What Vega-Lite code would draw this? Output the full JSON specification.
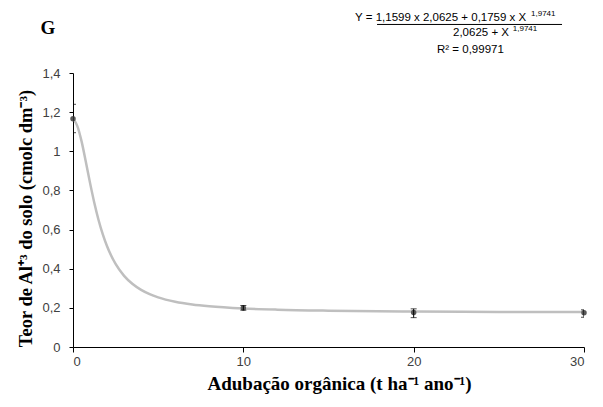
{
  "$schema": "https://vega.github.io/schema/vega-lite/v6.json",
  "width": 511,
  "height": 274,
  "autosize": "none",
  "padding": {"left": 73, "top": 73, "right": 19, "bottom": 60},
  "background": "white",
  "config": {
    "view": {"stroke": null},
    "locale": {"number": {"decimal": ",", "thousands": ".", "grouping": [3], "currency": ["", ""]}}
  },
  "datasets": {
    "curve": [
      {"x": 0, "y": 1.1599}, {"x": 0.1, "y": 1.1549}, {"x": 0.25, "y": 1.1299}, {"x": 0.5, "y": 1.0518},
      {"x": 0.75, "y": 0.9478}, {"x": 1, "y": 0.8386}, {"x": 1.25, "y": 0.7372}, {"x": 1.5, "y": 0.6491},
      {"x": 1.75, "y": 0.5753}, {"x": 2, "y": 0.5146}, {"x": 2.5, "y": 0.4244}, {"x": 3, "y": 0.3636},
      {"x": 3.5, "y": 0.3217}, {"x": 4, "y": 0.2919}, {"x": 4.5, "y": 0.2701}, {"x": 5, "y": 0.2538},
      {"x": 6, "y": 0.2316}, {"x": 7, "y": 0.2176}, {"x": 8, "y": 0.2083}, {"x": 10, "y": 0.1970},
      {"x": 12, "y": 0.1907}, {"x": 15, "y": 0.1855}, {"x": 20, "y": 0.1814}, {"x": 25, "y": 0.1794},
      {"x": 30, "y": 0.1784}
    ],
    "obs": [
      {"x": 0, "mean": 1.166, "lo": 1.095, "hi": 1.24},
      {"x": 10, "mean": 0.199, "lo": 0.188, "hi": 0.212},
      {"x": 20, "mean": 0.176, "lo": 0.15, "hi": 0.195},
      {"x": 30, "mean": 0.175, "lo": 0.152, "hi": 0.19}
    ]
  },
  "layer": [
    {
      "data": {"name": "curve"},
      "mark": {"type": "line", "color": "#bfbfbf", "strokeWidth": 2.5, "interpolate": "monotone", "clip": true},
      "encoding": {
        "x": {
          "field": "x", "type": "quantitative",
          "scale": {"domain": [0, 30], "nice": false, "zero": false},
          "axis": {
            "values": [0, 10, 20, 30],
            "grid": false, "labelOverlap": false,
            "domainColor": "black", "tickColor": "black", "tickSize": 5,
            "labelFont": "Liberation Sans", "labelFontSize": 13, "labelColor": "#404040", "labelPadding": 3,
            "title": "Adubação orgânica (t ha⁻¹ ano⁻¹)",
            "titleFont": "Liberation Serif", "titleFontSize": 19, "titleFontWeight": "bold", "titleColor": "black",
            "titlePadding": 6, "titleX": 266
          }
        },
        "y": {
          "field": "y", "type": "quantitative",
          "scale": {"domain": [0, 1.4], "nice": false},
          "axis": {
            "tickCount": 7,
            "format": "~g",
            "grid": false, "labelOverlap": false,
            "domainColor": "black", "tickColor": "black", "tickSize": 4,
            "labelFont": "Liberation Sans", "labelFontSize": 13, "labelColor": "#404040", "labelPadding": 9,
            "title": "Teor de Al⁺³ do solo (cmolc dm⁻³)",
            "titleFont": "Liberation Serif", "titleFontSize": 18.5, "titleFontWeight": "bold", "titleColor": "black",
            "titlePadding": 6, "titleY": 145
          }
        }
      }
    },
    {
      "data": {"name": "obs"},
      "mark": {"type": "point", "filled": true, "color": "#595959", "size": 30, "opacity": 1},
      "encoding": {
        "x": {"field": "x", "type": "quantitative"},
        "y": {"field": "mean", "type": "quantitative"}
      }
    },
    {
      "data": {"name": "obs"},
      "mark": {"type": "rule", "color": "black", "strokeWidth": 1, "clip": true},
      "encoding": {
        "x": {"field": "x", "type": "quantitative"},
        "y": {"field": "lo", "type": "quantitative"},
        "y2": {"field": "hi"}
      }
    },
    {
      "data": {"name": "obs"},
      "mark": {"type": "tick", "orient": "horizontal", "color": "black", "size": 6, "thickness": 1, "clip": true},
      "encoding": {
        "x": {"field": "x", "type": "quantitative"},
        "y": {"field": "lo", "type": "quantitative"}
      }
    },
    {
      "data": {"name": "obs"},
      "mark": {"type": "tick", "orient": "horizontal", "color": "black", "size": 6, "thickness": 1, "clip": true},
      "encoding": {
        "x": {"field": "x", "type": "quantitative"},
        "y": {"field": "hi", "type": "quantitative"}
      }
    },
    {
      "data": {"values": [{"label": "G", "x": -1.47, "y": 1.63}]},
      "mark": {"type": "text", "font": "Liberation Serif", "fontSize": 19, "fontWeight": "bold", "color": "black", "align": "center", "baseline": "middle"},
      "encoding": {
        "x": {"field": "x", "type": "quantitative"},
        "y": {"field": "y", "type": "quantitative"},
        "text": {"field": "label"}
      }
    },
    {
      "data": {"values": [
        {"label": "Y = 1,1599 x 2,0625 + 0,1759 x X", "x": 16.56, "y": 1.681},
        {"label": "2,0625 + X", "x": 22.31, "y": 1.604},
        {"label": "R² = 0,99971", "x": 21.37, "y": 1.5176}
      ]},
      "mark": {"type": "text", "font": "Liberation Sans", "fontSize": 11.5, "color": "black", "align": "left", "baseline": "middle"},
      "encoding": {
        "x": {"field": "x", "type": "quantitative"},
        "y": {"field": "y", "type": "quantitative"},
        "text": {"field": "label"}
      }
    },
    {
      "data": {"values": [
        {"label": "1,9741", "x": 26.89, "y": 1.703},
        {"label": "1,9741", "x": 25.82, "y": 1.626}
      ]},
      "mark": {"type": "text", "font": "Liberation Sans", "fontSize": 8, "color": "black", "align": "left", "baseline": "middle"},
      "encoding": {
        "x": {"field": "x", "type": "quantitative"},
        "y": {"field": "y", "type": "quantitative"},
        "text": {"field": "label"}
      }
    },
    {
      "data": {"values": [{"x": 17.85, "x2": 28.71, "y": 1.648}]},
      "mark": {"type": "rule", "color": "black", "strokeWidth": 1},
      "encoding": {
        "x": {"field": "x", "type": "quantitative"},
        "x2": {"field": "x2"},
        "y": {"field": "y", "type": "quantitative"}
      }
    }
  ]
}
